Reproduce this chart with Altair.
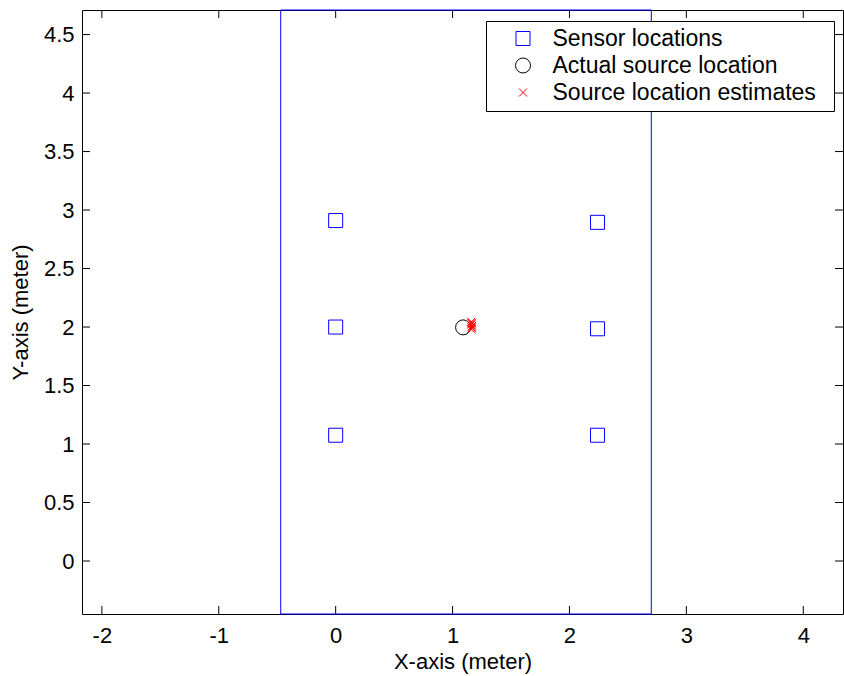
import altair as alt
import pandas as pd

# ---- data ----
sensor_x = [0.0, 0.0, 0.0, 2.24, 2.24, 2.24]
sensor_y = [2.91, 2.0, 1.075, 2.895, 1.985, 1.075]
source_x = [1.09]
source_y = [1.997]
est_x = [1.160, 1.165, 1.158, 1.168, 1.162, 1.166, 1.159, 1.163]
est_y = [2.045, 2.030, 2.020, 2.010, 2.000, 1.990, 1.980, 2.035]
room_x = [-0.47, 2.70]
room_y = [-0.453, 4.71]
x_ticks = [-2, -1, 0, 1, 2, 3, 4]
y_ticks = [0, 0.5, 1, 1.5, 2, 2.5, 3, 3.5, 4, 4.5]
x_domain = [-2.17, 4.34]
y_domain = [-0.453, 4.71]
labels = ["Sensor locations", "Actual source location", "Source location estimates"]

W, H = 761, 604
FONT = "Liberation Sans"

rows = []
for x, y in zip(sensor_x, sensor_y):
    rows.append({"x": x, "y": y, "series": labels[0]})
for x, y in zip(source_x, source_y):
    rows.append({"x": x, "y": y, "series": labels[1]})
for x, y in zip(est_x, est_y):
    rows.append({"x": x, "y": y, "series": labels[2]})
pts = pd.DataFrame(rows)

room = pd.DataFrame({"x": [room_x[0]], "x2": [room_x[1]], "y": [room_y[0]], "y2": [room_y[1]]})
xt = pd.DataFrame({"v": x_ticks})
yt = pd.DataFrame({"v": y_ticks})

xscale = alt.Scale(domain=x_domain, nice=False, zero=False)
yscale = alt.Scale(domain=y_domain, nice=False, zero=False)

xaxis = alt.Axis(values=x_ticks, title="X-axis (meter)", ticks=False, tickSize=0, domain=False,
                 grid=False, labelPadding=28, labelBaseline="alphabetic",
                 labelExpr="'' + datum.value", titleY=54, titleBaseline="alphabetic")
yaxis = alt.Axis(values=y_ticks, title="Y-axis (meter)", ticks=False, tickSize=0, domain=False,
                 grid=False, labelPadding=8, labelExpr="'' + datum.value",
                 titleX=-55, titleY=H / 2, titleAlign="center", titleBaseline="alphabetic",
                 titleAngle=270)

rect = alt.Chart(room).mark_rect(filled=False, stroke="#0000ff", strokeWidth=1).encode(
    x=alt.X("x:Q", scale=xscale, axis=xaxis),
    x2="x2:Q",
    y=alt.Y("y:Q", scale=yscale, axis=yaxis),
    y2="y2:Q",
)

xpath = "M-1,-1L1,1M-1,1L1,-1"
points = alt.Chart(pts).mark_point(filled=False, strokeWidth=1, opacity=1).encode(
    x=alt.X("x:Q", scale=xscale),
    y=alt.Y("y:Q", scale=yscale),
    color=alt.Color("series:N", scale=alt.Scale(domain=labels, range=["#0000ff", "#000000", "#ff0000"]),
                    legend=alt.Legend(title=" ", titleOrient="right", titleFontSize=1, titlePadding=12,
                                      orient="none", legendX=404, legendY=11,
                                      strokeColor="black", fillColor="white", padding=6,
                                      labelFontSize=23, labelFont=FONT, labelColor="black",
                                      symbolOffset=19.5, labelOffset=18, rowPadding=3,
                                      symbolStrokeWidth=1, labelLimit=400)),
    shape=alt.Shape("series:N", scale=alt.Scale(domain=labels, range=["square", "circle", xpath])),
    size=alt.Size("series:N", scale=alt.Scale(type="ordinal", domain=labels, range=[196, 225, 64])),
)

tick_b = alt.Chart(xt).mark_rule(color="black", strokeWidth=1).encode(
    x=alt.X("v:Q", scale=xscale), y=alt.value(H), y2=alt.value(H - 8))
tick_t = alt.Chart(xt).mark_rule(color="black", strokeWidth=1).encode(
    x=alt.X("v:Q", scale=xscale), y=alt.value(0), y2=alt.value(8))
tick_l = alt.Chart(yt).mark_rule(color="black", strokeWidth=1).encode(
    y=alt.Y("v:Q", scale=yscale), x=alt.value(0), x2=alt.value(8))
tick_r = alt.Chart(yt).mark_rule(color="black", strokeWidth=1).encode(
    y=alt.Y("v:Q", scale=yscale), x=alt.value(W), x2=alt.value(W - 8))

chart = alt.layer(tick_b, tick_t, tick_l, tick_r, rect, points).properties(
    width=W, height=H,
    autosize=alt.AutoSizeParams(type="none"),
    padding={"left": 82, "top": 10, "right": 1, "bottom": 62},
    background="white",
).configure_view(stroke="black", strokeWidth=1).configure_axis(
    labelFont=FONT, titleFont=FONT, labelFontSize=22, titleFontSize=22,
    labelColor="black", titleColor="black", titleFontWeight="normal",
)

chart.save("out.html", embed_options={"renderer": "svg", "actions": False})
